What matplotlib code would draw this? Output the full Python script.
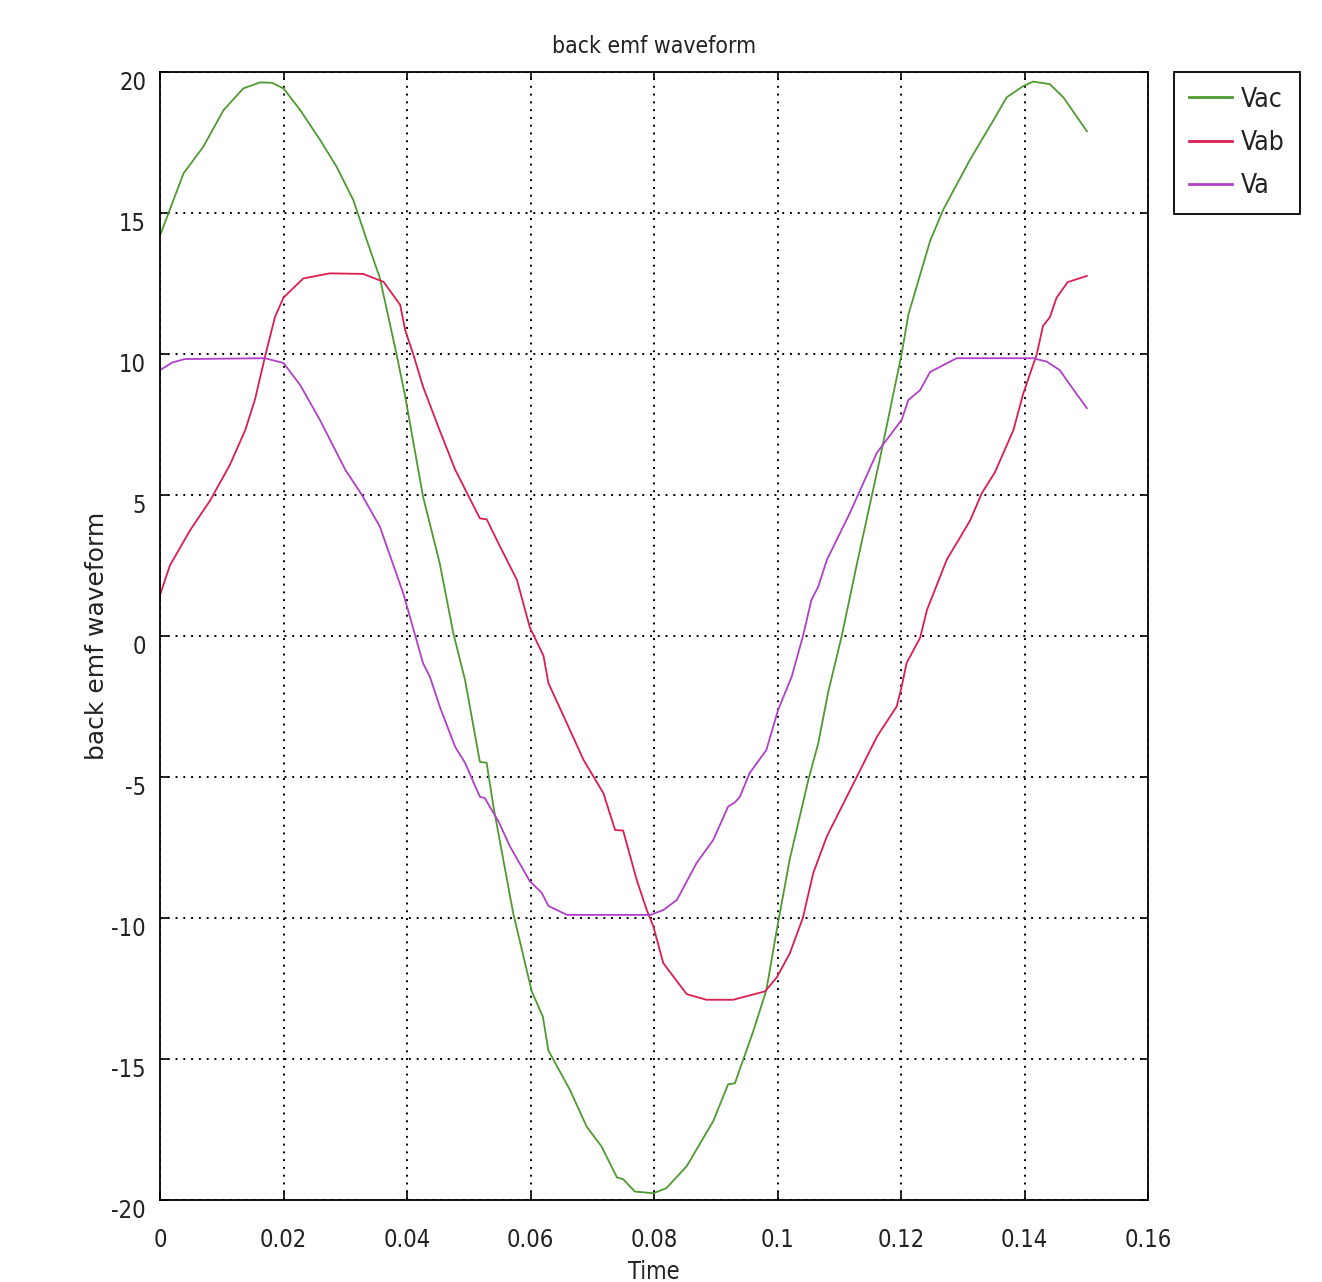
import matplotlib
matplotlib.use("Agg")
import matplotlib.pyplot as plt
from matplotlib.transforms import ScaledTranslation

# ---------------- data ----------------
t_vac = [0, 0.0038, 0.007, 0.0103, 0.0135, 0.0162, 0.0181, 0.02, 0.0227, 0.0259,
         0.0286, 0.0313, 0.0337, 0.0356, 0.0383, 0.0397, 0.0426, 0.0453, 0.0475, 0.0494,
         0.0518, 0.0529, 0.054, 0.0572, 0.0602, 0.062, 0.0629, 0.0664, 0.0691, 0.0715,
         0.074, 0.075, 0.0769, 0.0799, 0.082, 0.0853, 0.0896, 0.092, 0.0931, 0.0961,
         0.0982, 0.0999, 0.102, 0.105, 0.1066, 0.1082, 0.1104, 0.113, 0.1165, 0.1201,
         0.1212, 0.1247, 0.1268, 0.1312, 0.135, 0.1371, 0.1398, 0.1414, 0.1441, 0.1463,
         0.1501]
vac = [14.2, 16.4, 17.35, 18.65, 19.42, 19.63, 19.62, 19.42, 18.65, 17.6,
       16.64, 15.46, 13.9, 12.7, 10.0, 8.5, 4.94, 2.58, 0.1, -1.56,
       -4.46, -4.5, -6.05, -9.83, -12.6, -13.5, -14.7, -16.1, -17.4, -18.1,
       -19.2, -19.26, -19.7, -19.76, -19.58, -18.8, -17.2, -15.9, -15.86, -14.0,
       -12.55, -10.4, -7.9, -5.1, -3.8, -2.0, 0.0, 2.7, 6.2, 10.0,
       11.4, 14.0, 15.1, 16.9, 18.3, 19.1, 19.5, 19.66, 19.57, 19.1,
       17.9]

t_vab = [0, 0.0016, 0.0049, 0.0081, 0.0113, 0.0138, 0.0154, 0.017, 0.0186, 0.02,
         0.0232, 0.0275, 0.0329, 0.0362, 0.0389, 0.0397, 0.041, 0.0426, 0.0451, 0.0478,
         0.0518, 0.0529, 0.0548, 0.0578, 0.0599, 0.0621, 0.0629, 0.0659, 0.0686, 0.0718,
         0.0737, 0.075, 0.0772, 0.0788, 0.0799, 0.0815, 0.0853, 0.0885, 0.0928, 0.098,
         0.0999, 0.102, 0.1041, 0.1058, 0.108, 0.1126, 0.1161, 0.1193, 0.1201, 0.1209,
         0.1231, 0.1242, 0.1274, 0.1312, 0.1331, 0.1352, 0.1382, 0.1398, 0.142, 0.143,
         0.1441, 0.1452, 0.147, 0.1501]
vab = [1.45, 2.5, 3.76, 4.8, 6.06, 7.3, 8.4, 9.9, 11.3, 12.0,
       12.68, 12.86, 12.84, 12.56, 11.74, 10.85, 10.0, 8.84, 7.4, 5.9,
       4.17, 4.14, 3.29, 1.99, 0.3, -0.7, -1.67, -3.1, -4.4, -5.57,
       -6.88, -6.9, -8.65, -9.7, -10.3, -11.6, -12.7, -12.9, -12.9, -12.6,
       -12.1, -11.25, -10.0, -8.4, -7.1, -5.1, -3.57, -2.5, -1.8, -0.96,
       -0.06, 0.92, 2.7, 4.1, 5.07, 5.8, 7.3, 8.6, 10.0, 11.0,
       11.3, 12.0, 12.55, 12.77]

t_va = [0, 0.002, 0.004, 0.017, 0.02, 0.0227, 0.0259, 0.03, 0.0327, 0.0356,
        0.0394, 0.0426, 0.0437, 0.0453, 0.0478, 0.0494, 0.0518, 0.0526, 0.0548, 0.0567,
        0.0599, 0.0618, 0.0629, 0.0659, 0.0794, 0.0815, 0.0837, 0.0869, 0.0896, 0.092,
        0.0931, 0.0939, 0.0955, 0.0982, 0.1001, 0.1023, 0.1041, 0.1055, 0.1066, 0.108,
        0.1117, 0.1161, 0.1201, 0.1212, 0.1231, 0.1247, 0.129, 0.1414, 0.1436, 0.1457,
        0.1474, 0.1501]
va = [9.43, 9.7, 9.82, 9.85, 9.68, 8.9, 7.66, 5.9, 5.0, 3.88,
      1.51, -0.97, -1.44, -2.5, -3.93, -4.5, -5.7, -5.75, -6.57, -7.47,
      -8.7, -9.1, -9.57, -9.89, -9.89, -9.72, -9.36, -8.05, -7.23, -6.05,
      -5.9, -5.7, -4.86, -4.04, -2.62, -1.44, -0.02, 1.28, 1.75, 2.7,
      4.35, 6.5, 7.66, 8.37, 8.72, 9.36, 9.85, 9.85, 9.73, 9.43,
      8.9, 8.08]

series_names = ["Vac", "Vab", "Va"]
series_colors = ["#4f9a30", "#dc1e4e", "#b040c8"]
x_ticks = [0, 0.02, 0.04, 0.06, 0.08, 0.1, 0.12, 0.14, 0.16]
x_tick_labels = ["0", "0.02", "0.04", "0.06", "0.08", "0.1", "0.12", "0.14", "0.16"]
y_ticks = [-20, -15, -10, -5, 0, 5, 10, 15, 20]
y_tick_labels = ["-20", "-15", "-10", "-5", "0", "5", "10", "15", "20"]
title_text = "back emf waveform"
x_label = "Time"
y_label = "back emf waveform"

# ---------------- figure ----------------
narrow = ["Liberation Sans Narrow", "DejaVu Sans"]
tcol = "#222222"
W, H = 1322, 1282
fig = plt.figure(figsize=(W / 100, H / 100), dpi=100)
ax = fig.add_axes([160 / W, 1 - 1200 / H, (1148 - 160) / W, (1200 - 72) / H])

for tt, vv, name, col in zip([t_vac, t_vab, t_va], [vac, vab, va], series_names, series_colors):
    ax.plot(tt, vv, color=col, lw=1.3, label=name)

ax.set_xlim(0, 0.16)
ax.set_ylim(-20, 20)
ax.set_xticks(x_ticks)
ax.set_xticklabels(x_tick_labels, family=narrow, fontsize=17, color=tcol, stretch="condensed")
ax.set_yticks(y_ticks)
ax.set_yticklabels(y_tick_labels, family=narrow, fontsize=17, color=tcol, stretch="condensed")
ax.tick_params(axis="both", direction="in", length=6, width=1.2, top=True, right=True)
ax.tick_params(axis="x", pad=20)
ax.tick_params(axis="y", pad=10)
for lab in ax.get_yticklabels():
    lab.set_transform(lab.get_transform() + ScaledTranslation(0, -6 / 72, fig.dpi_scale_trans))

ax.grid(True, color="black", linestyle=(0, (1, 3)), linewidth=1.4)
for sp in ax.spines.values():
    sp.set_linewidth(1.3)
    sp.set_color("black")

ax.set_title(title_text, family=narrow, fontsize=16.5, pad=14, color=tcol, stretch="condensed")
ax.set_xlabel(x_label, family=narrow, fontsize=17, labelpad=6, color=tcol, stretch="condensed")
ax.set_ylabel(y_label, family="DejaVu Sans", fontsize=18, labelpad=2, color=tcol)

leg = ax.legend(loc="upper left", bbox_to_anchor=(1174 / W, 1 - 72 / H),
                bbox_transform=fig.transFigure, borderaxespad=0,
                prop={"family": narrow, "size": 19, "stretch": "condensed"},
                handlelength=1.65, handletextpad=0.35, labelspacing=0.66,
                borderpad=0.55, fancybox=False, framealpha=1)
leg.get_frame().set_edgecolor("black")
leg.get_frame().set_linewidth(1.3)
for line in leg.get_lines():
    line.set_linewidth(2)
for txt in leg.get_texts():
    txt.set_color(tcol)

fig.savefig("out.png", dpi=100)
